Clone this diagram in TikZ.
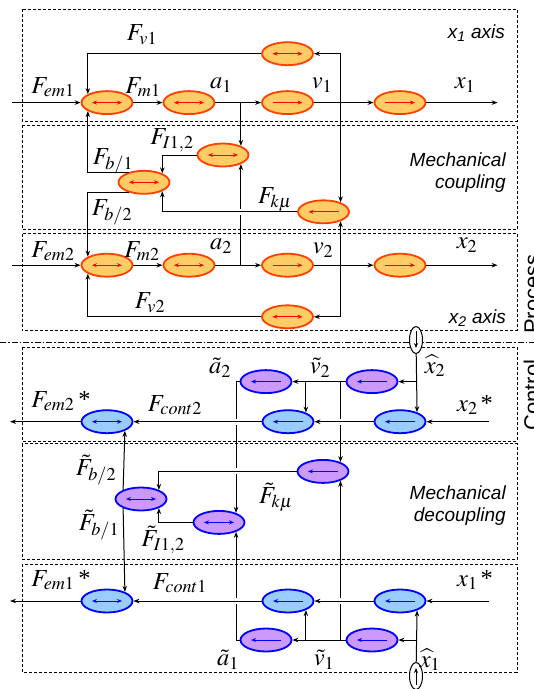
\documentclass[tikz,border=0pt]{standalone}
\usepackage{mathptmx}
\usepackage{fontspec}
\setmainfont{Liberation Serif}
\setsansfont{Liberation Sans}
\usetikzlibrary{arrows.meta,shapes.geometric}

\definecolor{procfill}{HTML}{FFCC66}
\definecolor{procline}{HTML}{FF4000}
\definecolor{ctrlfill}{HTML}{99CCFF}
\definecolor{obsfill}{HTML}{CC99FF}
\definecolor{ctrlline}{HTML}{0000FF}

\tikzset{
	blk/.style={ellipse,minimum width=51pt,minimum height=23pt,inner sep=0pt,line width=1.8pt},
	procblk/.style={blk,draw=procline,fill=procfill},
	ctrlblk/.style={blk,draw=ctrlline,fill=ctrlfill},
	obsblk/.style={blk,draw=ctrlline,fill=obsfill},
	twoway/.style={path picture={\draw[line width=1pt,{Stealth[length=5pt,width=4pt]}-{Stealth[length=5pt,width=4pt]},#1]
		([xshift=-15pt]path picture bounding box.center) -- ([xshift=15pt]path picture bounding box.center);}},
	rightway/.style={path picture={\draw[line width=1pt,-{Stealth[length=5pt,width=4pt]},#1]
		([xshift=-15pt]path picture bounding box.center) -- ([xshift=15pt]path picture bounding box.center);}},
	leftway/.style={path picture={\draw[line width=1pt,-{Stealth[length=5pt,width=4pt]},#1]
		([xshift=15pt]path picture bounding box.center) -- ([xshift=-15pt]path picture bounding box.center);}},
	sensor/.style={ellipse,draw,fill=white,line width=1pt,minimum width=13pt,minimum height=27pt,inner sep=0pt},
	sensdown/.style={sensor,path picture={\draw[line width=1pt,-{Stealth[length=5pt,width=4pt]}]
		([yshift=9pt]path picture bounding box.center) -- ([yshift=-8pt]path picture bounding box.center);}},
	sensup/.style={sensor,path picture={\draw[line width=1pt,-{Stealth[length=5pt,width=4pt]}]
		([yshift=-9pt]path picture bounding box.center) -- ([yshift=8pt]path picture bounding box.center);}},
	zone/.style={draw,line width=0.8pt,dash pattern=on 3pt off 2pt},
	divider/.style={draw,line width=0.8pt,dash pattern=on 6pt off 2pt on 1.5pt off 2pt},
	bridge/.style={preaction={draw=white,line width=6pt,-,shorten <=4pt,shorten >=4pt}},
	lbl/.style={font=\fontsize{24.5}{27}\selectfont,inner sep=0pt},
	tag/.style={font=\fontsize{19}{22}\selectfont\sffamily\itshape,inner sep=0pt,align=right,anchor=east},
	side/.style={font=\fontsize{22}{24}\selectfont\sffamily,inner sep=0pt,rotate=90,anchor=base}
}

\begin{document}
\begin{tikzpicture}[x=1pt,y=-1pt]
				\useasboundingbox (0,0) rectangle (534,689);
				\draw[zone] (22.4,9.2) rectangle (517,121.2);
				\draw[zone] (22.4,125.3) rectangle (517,229.6);
				\draw[zone] (22.4,233.8) rectangle (517,330.8);
				\draw[divider] (0,342.5) -- (534,342.5);
				\draw[zone] (22.4,347) rectangle (517,441);
				\draw[zone] (22.4,443.8) rectangle (517,559.5);
				\draw[zone] (22.4,564) rectangle (517,672.3);
				\begin{scope}[every node/.style={procblk}]
				\node[twoway=red] (m1) at (107,102.6) {};
				\node[twoway=red] (i1) at (189,102.6) {};
				\node[rightway=red] (g1) at (287.5,102.6) {};
				\node[rightway=red] (h1) at (400,102.6) {};
				\node[twoway=red] (fv1) at (287.5,53.7) {};
				\node[twoway=red] (fi) at (223,155) {};
				\node[twoway=red] (fb) at (144,182.3) {};
				\node[leftway=red] (fk) at (323.5,211.8) {};
				\node[twoway=red] (m2) at (107,265.2) {};
				\node[twoway=red] (i2) at (189,265.2) {};
				\node[rightway=red] (g2) at (287.5,265.2) {};
				\node[rightway=red] (h2) at (400,265.2) {};
				\node[twoway=red] (fv2) at (287.5,316.8) {};
				\end{scope}
				\begin{scope}[every node/.style={ctrlblk}]
				\node[twoway=blue] (cm2) at (107,421.7) {};
				\node[leftway=blue] (cc2) at (288,421.7) {};
				\node[leftway=blue] (cx2) at (400,421.7) {};
				\node[twoway=blue] (cm1) at (107,601) {};
				\node[leftway=blue] (cc1) at (288,601) {};
				\node[leftway=blue] (cx1) at (400,601) {};
				\end{scope}
				\begin{scope}[every node/.style={obsblk}]
				\node[leftway=blue] (pa2) at (266,381.6) {};
				\node[leftway=blue] (pv2) at (372,381.6) {};
				\node[leftway=blue] (fkt) at (323,471.4) {};
				\node[twoway=blue] (fbt) at (141,499) {};
				\node[twoway=blue] (fit) at (219,522.4) {};
				\node[leftway=blue] (pa1) at (266,640) {};
				\node[leftway=blue] (pv1) at (372,640) {};
				\end{scope}
				\node[sensdown] (s2) at (416,340) {};
				\node[sensup] (s1) at (416,676) {};
				\begin{scope}[>={Stealth[length=6pt,width=4.5pt]},
				line width=1pt,
				every edge/.style={draw,line width=1pt}]
				\coordinate (in1) at (12,102.6);
				\coordinate (out1) at (497.6,102.6);
				\coordinate (in2) at (12,265.2);
				\coordinate (out2) at (497.6,265.2);
				\coordinate (ja1) at (fi.27 |- i1);
				\coordinate (ja2) at (fi.-27 |- i2);
				\coordinate (jv1) at (fk.29 |- g1);
				\coordinate (jv2) at (fk.-29 |- g2);
				\path [->] (in1) edge (m1);
				\path [->] (m1) edge (i1);
				\path [->] (i1) edge (g1);
				\path [->] (g1) edge (h1);
				\path [->] (h1) edge (out1);
				\path [->] (in2) edge (m2);
				\path [->] (m2) edge (i2);
				\path [->] (i2) edge (g2);
				\path [->] (g2) edge (h2);
				\path [->] (h2) edge (out2);
				\path [->] (ja1) edge (fi.27);
				\path [->] (ja2) edge (fi.-27);
				\path [->] (jv1) edge (fk.29);
				\path [->] (jv2) edge (fk.-29);
				\draw [->] (jv1) |- (fv1);
				\draw [->] (jv2) |- (fv2);
				\draw [->] (fv1) -| (m1.156);
				\draw [->] (fv2) -| (m2.204);
				\draw [->] (fi) -| (fb.26);
				\draw [->,bridge] (fk) -| (fb.-26);
				\draw [->] (fb.147) -| (m1.204);
				\draw [->] (fb.213) -| (m2.156);
				\coordinate (r2) at (489,421.7);
				\coordinate (l2) at (10,421.7);
				\coordinate (r1) at (489,601);
				\coordinate (l1) at (10,601);
				\coordinate (js2) at (s2 |- pv2);
				\coordinate (jt2) at (cc2.27 |- pv2);
				\coordinate (jk2) at (fkt.28 |- pv2);
				\coordinate (js1) at (s1 |- pv1);
				\coordinate (jt1) at (cc1.-27 |- pv1);
				\coordinate (jk1) at (fkt.-28 |- pv1);
				\path [->] (s2) edge (cx2.29);
				\path [->] (s1) edge (cx1.-29);
				\path [->] (js2) edge (pv2);
				\path [->] (js1) edge (pv1);
				\path [->] (pv2) edge (pa2);
				\path [->] (pv1) edge (pa1);
				\path [->] (jt2) edge (cc2.27);
				\path [->] (jt1) edge (cc1.-27);
				\path [->] (jk2) edge (fkt.28);
				\path [->] (jk1) edge (fkt.-28);
				\draw [->] (pa2) -| (fit.29);
				\draw [->] (pa1) -| (fit.-29);
				\draw [->] (fit) -| (fbt.-27);
				\draw [->,bridge] (fkt) -| (fbt.27);
				\path [->] (fbt.153) edge (cm2.-27);
				\path [->] (fbt.207) edge (cm1.27);
				\draw [->] (r2) -- (cx2);
				\draw [->,bridge] (cx2) -- (cc2);
				\draw [->,bridge] (cc2) -- (cm2);
				\draw [->] (cm2) -- (l2);
				\draw [->] (r1) -- (cx1);
				\draw [->,bridge] (cx1) -- (cc1);
				\draw [->,bridge] (cc1) -- (cm1);
				\draw [->] (cm1) -- (l1);
				\end{scope}
				\begin{scope}[every node/.style={lbl}]
				\node (lfem1) at (53,87) {$F_{em1}$};
				\node (lfm1) at (143,87) {$F_{m1}$};
				\node (la1) at (221,85) {$a_1$};
				\node (lv1) at (322,85) {$v_1$};
				\node (lx1) at (465,85) {$x_1$};
				\node (lfv1) at (142,35) {$F_{v1}$};
				\node (lfi) at (172,140) {$F_{I1,2}$};
				\node (lfb1) at (113,161) {$F_{b/1}$};
				\node (lfb2) at (112,212) {$F_{b/2}$};
				\node (lfk) at (275,200) {$F_{k\mu}$};
				\node (lfem2) at (53,251) {$F_{em2}$};
				\node (lfm2) at (142,251) {$F_{m2}$};
				\node (la2) at (221,246) {$a_2$};
				\node (lv2) at (323,250) {$v_2$};
				\node (lx2) at (467,245) {$x_2$};
				\node (lfv2) at (150,303) {$F_{v2}$};
				\node (lta2) at (220,368) {$\tilde{a}_2$};
				\node (ltv2) at (320,368) {$\tilde{v}_2$};
				\node (lhx2) at (435,366) {$\widehat{x}_2$};
				\node (lref2) at (61,401) {$F_{em2}$\hspace{4pt}*};
				\node (lcont2) at (175,405) {$F_{cont2}$};
				\node (lxr2) at (475,405) {$x_2$\hspace{3pt}*};
				\node (ltfb2) at (96,470) {$\tilde{F}_{b/2}$};
				\node (ltfb1) at (99,525) {$\tilde{F}_{b/1}$};
				\node (ltfi) at (163,540) {$\tilde{F}_{I1,2}$};
				\node (ltfk) at (276,497) {$\tilde{F}_{k\mu}$};
				\node (lref1) at (61,580) {$F_{em1}$\hspace{4pt}*};
				\node (lcont1) at (180,583) {$F_{cont1}$};
				\node (lxr1) at (475,580) {$x_1$\hspace{3pt}*};
				\node (lta1) at (228,660) {$\tilde{a}_1$};
				\node (ltv1) at (324,660) {$\tilde{v}_1$};
				\node (lhx1) at (430,660) {$\widehat{x}_1$};
				\end{scope}
				\node[tag] (ax1) at (505,33) {x\textsubscript{1} axis};
				\node[tag] (ax2) at (506,318) {x\textsubscript{2} axis};
				\node[tag] (coup) at (506,173) {Mechanical\\coupling};
				\node[tag] (decoup) at (506,506) {Mechanical\\decoupling};
				\node[side] (proc) at (539.5,294) {Process};
				\node[side] (ctrl) at (539.5,395) {Control};
				\end{tikzpicture}
\end{document}
